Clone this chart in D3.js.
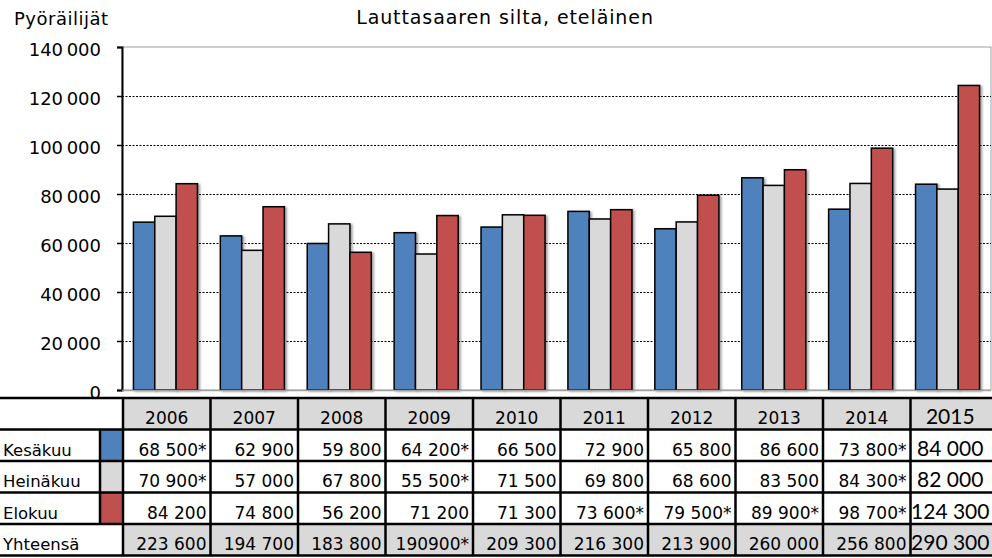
<!DOCTYPE html>
<html>
<head>
<meta charset="utf-8">
<script src="https://cdn.jsdelivr.net/npm/d3@7"></script>
<style>
  body { margin: 0; background: #fff; }
  svg { display: block; }
  text { font-family: "DejaVu Sans", sans-serif; fill: #000; }
  text.wide { font-family: Lato, sans-serif; }
</style>
</head>
<body>
<div id="chart"></div>
<script>
var years = [2006, 2007, 2008, 2009, 2010, 2011, 2012, 2013, 2014, 2015];
var months = ["Kesäkuu", "Heinäkuu", "Elokuu"];
var kesakuu = [68500, 62900, 59800, 64200, 66500, 72900, 65800, 86600, 73800, 84000];
var heinakuu = [70900, 57000, 67800, 55500, 71500, 69800, 68600, 83500, 84300, 82000];
var elokuu = [84200, 74800, 56200, 71200, 71300, 73600, 79500, 89900, 98700, 124300];
// "*" = arvio
var kesakuuNote = ["*", "", "", "*", "", "", "", "", "*", ""];
var heinakuuNote = ["*", "", "", "*", "", "", "", "", "*", ""];
var elokuuNote = ["", "", "", "", "", "*", "*", "*", "*", ""];
var totals = ["223 600", "194 700", "183 800", "190900*", "209 300", "216 300", "213 900", "260 000", "256 800", "290 300"];
var yTicks = [0, 20000, 40000, 60000, 80000, 100000, 120000, 140000];
var colors = ["#4f81bd", "#d9d9d9", "#c0504d"];

var series = [kesakuu, heinakuu, elokuu];
var notes = [kesakuuNote, heinakuuNote, elokuuNote];

var W = 992, H = 558;
var svg = d3.select("#chart").append("svg").attr("width", W).attr("height", H);

var fmt = d3.formatLocale({ decimal: ",", thousands: "\u2009", grouping: [3], currency: ["", ""] }).format(",d");

var plot = { left: 122, right: 991, top: 47, bottom: 390 };

var x0 = d3.scaleBand().domain(years).range([plot.left, plot.right]).paddingInner(0.263).paddingOuter(0.1315);
var x1 = d3.scaleBand().domain(d3.range(3)).range([0, x0.bandwidth()]);
var y = d3.scaleLinear().domain([0, 140000]).range([plot.bottom, plot.top]);

var defs = svg.append("defs");
defs.append("filter").attr("id", "shadow").attr("x", "-20%").attr("y", "-5%").attr("width", "150%").attr("height", "120%")
    .append("feDropShadow").attr("dx", 2).attr("dy", 1).attr("stdDeviation", 0.8).attr("flood-color", "#000").attr("flood-opacity", 0.35);

// frame
svg.append("rect")
    .attr("x", plot.left).attr("y", plot.top)
    .attr("width", plot.right - plot.left).attr("height", plot.bottom - plot.top)
    .attr("fill", "none").attr("stroke", "#a0a0a0").attr("stroke-width", 1);

// gridlines
svg.append("g").selectAll("line")
    .data(yTicks.filter((d) => d > 0 && d < 140000))
    .enter().append("line")
    .attr("x1", plot.left).attr("x2", plot.right)
    .attr("y1", (d) => Math.round(y(d)) + 0.5).attr("y2", (d) => Math.round(y(d)) + 0.5)
    .attr("stroke", "#000").attr("stroke-width", 1).attr("stroke-dasharray", "2,1.5");

// bars
var groups = svg.append("g").selectAll("g")
    .data(years).enter().append("g")
    .attr("transform", (d) => "translate(" + x0(d) + ",0)");

groups.selectAll("rect")
    .data((d, i) => series.map((s, k) => ({ k: k, v: s[i] })))
    .enter().append("rect")
    .attr("x", (d) => x1(d.k))
    .attr("y", (d) => y(d.v))
    .attr("width", x1.bandwidth())
    .attr("height", (d) => y(0) - y(d.v))
    .attr("fill", (d) => colors[d.k])
    .attr("stroke", "#000").attr("stroke-width", 1.5)
    .attr("filter", "url(#shadow)");

// y axis
var yAxis = svg.append("g")
    .attr("transform", "translate(" + plot.left + ",0)")
    .call(d3.axisLeft(y).tickValues(yTicks).tickFormat(fmt).tickSize(5).tickPadding(16));
yAxis.attr("font-family", null).attr("font-size", null);
yAxis.select(".domain").attr("stroke", "#000").attr("stroke-width", 2);
yAxis.selectAll(".tick line").attr("stroke", "#000").attr("stroke-width", 1.5);
yAxis.selectAll(".tick text").style("font-size", "18px").attr("dy", "0.45em");

svg.append("line")
    .attr("x1", plot.left).attr("x2", plot.right)
    .attr("y1", plot.bottom + 0.5).attr("y2", plot.bottom + 0.5)
    .attr("stroke", "#a0a0a0").attr("stroke-width", 1.5);

// titles
svg.append("text").attr("x", 14).attr("y", 25)
    .style("font-size", "18px").style("letter-spacing", "0.5px").text("Pyöräilijät");
svg.append("text").attr("x", 505).attr("y", 24).attr("text-anchor", "middle")
    .style("font-size", "19px").style("letter-spacing", "0.9px")
    .text("Lauttasaaren silta, eteläinen");

// table
var rowTops = [398, 429.5, 461, 492.5, 524, 555.5];
var col = d3.scaleBand().domain(years).range([123, 998]);
var table = svg.append("g");

// header and total cell fills
[0, 4].forEach((r) => {
    table.append("g").selectAll("rect")
        .data(years).enter().append("rect")
        .attr("x", (d) => col(d)).attr("y", rowTops[r])
        .attr("width", col.bandwidth()).attr("height", rowTops[r + 1] - rowTops[r])
        .attr("fill", "#d9d9d9");
});

// swatches
months.forEach((m, k) => {
    table.append("rect")
        .attr("x", 100).attr("y", rowTops[k + 1])
        .attr("width", 23).attr("height", rowTops[k + 2] - rowTops[k + 1])
        .attr("fill", colors[k]);
});

// grid lines of table
rowTops.forEach((t) => {
    table.append("line").attr("x1", 0).attr("x2", W).attr("y1", t).attr("y2", t)
        .attr("stroke", "#000").attr("stroke-width", 2.5);
});
years.forEach((yr) => {
    table.append("line").attr("x1", col(yr)).attr("x2", col(yr))
        .attr("y1", rowTops[0]).attr("y2", rowTops[5])
        .attr("stroke", "#000").attr("stroke-width", 2.5);
});
table.append("line").attr("x1", 100).attr("x2", 100)
    .attr("y1", rowTops[1]).attr("y2", rowTops[4])
    .attr("stroke", "#000").attr("stroke-width", 2.5);

// header text
table.append("g").selectAll("text")
    .data(years).enter().append("text")
    .attr("class", (d) => (d === 2015 ? "wide" : null))
    .attr("x", (d) => col(d) + col.bandwidth() / 2 - (d === 2015 ? 4 : 0))
    .attr("y", rowTops[0] + 26)
    .attr("text-anchor", "middle")
    .style("font-size", (d) => (d === 2015 ? "21px" : "17px"))
    .text((d) => d);

// row labels
months.concat(["Yhteensä"]).forEach((m, r) => {
    table.append("text").attr("x", 3).attr("y", rowTops[r + 1] + 26)
        .style("font-size", "16.5px").text(m);
});

// cell values
function cell(r, i, label) {
    var is2015 = years[i] === 2015;
    table.append("text")
        .attr("class", is2015 ? "wide" : null)
        .attr("x", is2015 ? col(years[i]) + col.bandwidth() / 2 - 4 : col(years[i]) + col.bandwidth() - 4)
        .attr("y", rowTops[r] + 26)
        .attr("text-anchor", is2015 ? "middle" : "end")
        .style("font-size", is2015 ? "21px" : "17px")
        .text(label);
}
var cellFmt = d3.formatLocale({ decimal: ",", thousands: " ", grouping: [3], currency: ["", ""] }).format(",d");
series.forEach((s, k) => {
    s.forEach((v, i) => cell(k + 1, i, cellFmt(v) + notes[k][i]));
});
totals.forEach((t, i) => cell(4, i, t));
</script>
</body>
</html>
